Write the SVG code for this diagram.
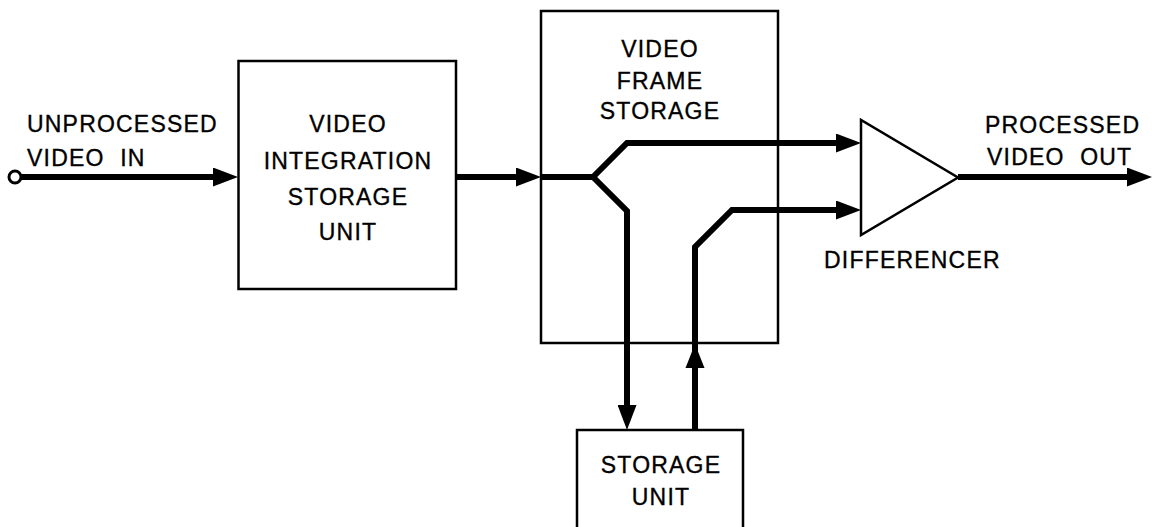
<svg xmlns="http://www.w3.org/2000/svg" width="1152" height="527" viewBox="0 0 1152 527">
<style>
.box{fill:none;stroke:#000;stroke-width:2.5}
.tri{fill:#fff;stroke:#000;stroke-width:2.5;stroke-linejoin:miter}
.wire{fill:none;stroke:#000;stroke-width:6;stroke-linejoin:miter}
.t{font-family:"Liberation Sans",Arial,sans-serif;font-size:23px;letter-spacing:1.2px;fill:#000;stroke:#000;stroke-width:0.35}
.c{text-anchor:middle}
.ws{word-spacing:8px}
.head{fill:#000}
</style>
<defs>
<marker id="arr" viewBox="0 0 25 19" refX="15" refY="9.5" markerWidth="25" markerHeight="19" markerUnits="userSpaceOnUse" orient="auto">
<path d="M0,0 L25,9.5 L0,19 z" fill="#000"/>
</marker>
</defs>
<rect width="1152" height="527" fill="#fff"/>
<g id="input">
<circle cx="15" cy="177" r="6" fill="#fff" stroke="#000" stroke-width="3"/>
<text class="t" x="27" y="132">UNPROCESSED</text>
<text class="t ws" x="27" y="166">VIDEO IN</text>
</g>
<g id="integration">
<rect class="box" x="238.5" y="61" width="217.5" height="228"/>
<text class="t c" x="348" y="132">VIDEO</text>
<text class="t c" x="348" y="169">INTEGRATION</text>
<text class="t c" x="348" y="205">STORAGE</text>
<text class="t c" x="348" y="240">UNIT</text>
</g>
<g id="frame">
<rect class="box" x="541" y="11" width="237" height="332"/>
<text class="t c" x="660" y="57">VIDEO</text>
<text class="t c" x="660" y="89">FRAME</text>
<text class="t c" x="660" y="119">STORAGE</text>
</g>
<g id="storage">
<path class="box" d="M577,535 L577,430 L743,430 L743,535"/>
<text class="t c" x="661" y="473">STORAGE</text>
<text class="t c" x="661" y="505">UNIT</text>
</g>
<g id="differencer">
<polygon class="tri" points="861,120 861,235 958,177.5"/>
<text class="t" x="824" y="268">DIFFERENCER</text>
</g>
<g id="output">
<text class="t" x="985" y="133">PROCESSED</text>
<text class="t ws" x="987" y="165">VIDEO OUT</text>
</g>
<g id="connectors">
<path class="wire" d="M21,177 L228,177" marker-end="url(#arr)"/>
<path class="wire" d="M456,177 L531,177" marker-end="url(#arr)"/>
<path class="wire" d="M541,177 L593,177 L627,143 L851,143" marker-end="url(#arr)"/>
<path class="wire" d="M593,177 L627,211 L627,420" marker-end="url(#arr)"/>
<path class="wire" d="M695,430 L695,247 L732,210 L851,210" marker-end="url(#arr)"/>
<polygon class="head" points="695,344 685.5,368 704.5,368"/>
<path class="wire" d="M958,177 L1142,177" marker-end="url(#arr)"/>
</g>
</svg>
